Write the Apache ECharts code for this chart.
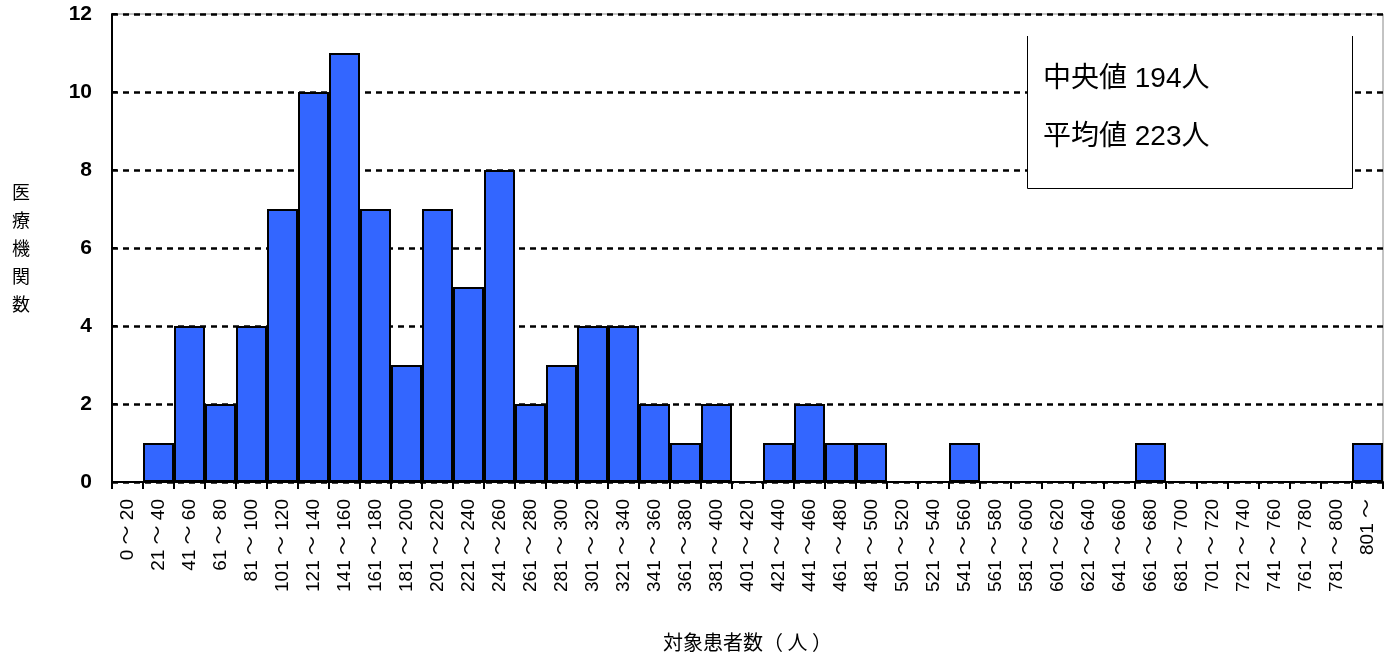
<!DOCTYPE html>
<html>
<head>
<meta charset="utf-8">
<script src="https://cdn.jsdelivr.net/npm/echarts@6/dist/echarts.min.js"></script>
<style>
  html, body { margin: 0; padding: 0; background: #fff; }
  #main { width: 1390px; height: 657px; }
</style>
</head>
<body>
<div id="main"></div>
<script>
// 患者数の階級
const categories = [
  '0 ～ 20', '21 ～ 40', '41 ～ 60', '61 ～ 80', '81 ～ 100', '101 ～ 120', '121 ～ 140', '141 ～ 160',
  '161 ～ 180', '181 ～ 200', '201 ～ 220', '221 ～ 240', '241 ～ 260', '261 ～ 280', '281 ～ 300',
  '301 ～ 320', '321 ～ 340', '341 ～ 360', '361 ～ 380', '381 ～ 400', '401 ～ 420', '421 ～ 440',
  '441 ～ 460', '461 ～ 480', '481 ～ 500', '501 ～ 520', '521 ～ 540', '541 ～ 560', '561 ～ 580',
  '581 ～ 600', '601 ～ 620', '621 ～ 640', '641 ～ 660', '661 ～ 680', '681 ～ 700', '701 ～ 720',
  '721 ～ 740', '741 ～ 760', '761 ～ 780', '781 ～ 800', '801 ～'
];
// 医療機関数
const counts = [
  0, 1, 4, 2, 4, 7, 10, 11, 7, 3, 7, 5, 8, 2, 3, 4, 4, 2, 1, 2, 0, 1, 2, 1, 1,
  0, 0, 1, 0, 0, 0, 0, 0, 1, 0, 0, 0, 0, 0, 0, 1
];
const yTicks = [0, 2, 4, 6, 8, 10, 12];
const statLines = ['中央値 194人', '平均値 223人'];

const chart = echarts.init(document.getElementById('main'), null, { renderer: 'canvas' });

const option = {
  animation: false,
  textStyle: {
    fontFamily: 'Liberation Sans, Arial, Noto Sans CJK JP, sans-serif'
  },
  grid: {
    left: 112,
    right: 7,
    top: 14,
    bottom: 171,
    show: true,
    borderColor: '#888',
    borderWidth: 1
  },
  xAxis: {
    type: 'category',
    data: categories,
    name: '対象患者数（ 人 ）',
    nameLocation: 'middle',
    nameGap: 150,
    nameTextStyle: {
      color: '#000',
      fontSize: 20,
      fontFamily: 'Noto Sans CJK JP'
    },
    axisLine: {
      lineStyle: { color: '#000', width: 2 }
    },
    axisTick: {
      show: true,
      interval: 0,
      length: 7,
      lineStyle: { color: '#000', width: 2 }
    },
    axisLabel: {
      interval: 0,
      rotate: 90,
      color: '#000',
      fontSize: 19,
      margin: 17
    },
    splitLine: { show: false }
  },
  yAxis: {
    type: 'value',
    min: 0,
    max: 12,
    interval: 2,
    name: '医\n療\n機\n関\n数',
    nameLocation: 'middle',
    nameRotate: 0,
    nameGap: 82,
    nameTextStyle: {
      color: '#000',
      fontSize: 18,
      lineHeight: 28,
      fontFamily: 'Noto Sans CJK JP'
    },
    axisLine: {
      show: true,
      lineStyle: { color: '#000', width: 2 }
    },
    axisTick: {
      show: true,
      inside: true,
      length: 5,
      lineStyle: { color: '#000', width: 2 }
    },
    axisLabel: {
      color: '#000',
      fontSize: 21,
      fontWeight: 'bold',
      margin: 20,
      formatter: v => (yTicks.indexOf(v) >= 0 ? String(v) : '')
    },
    splitLine: {
      show: true,
      lineStyle: { color: '#000', width: 2.5, type: [6, 5] }
    }
  },
  series: [
    {
      name: '医療機関数',
      type: 'bar',
      data: counts,
      barCategoryGap: '0%',
      itemStyle: {
        color: '#3366FF',
        borderColor: '#000',
        borderWidth: 2
      },
      z: 3
    }
  ],
  graphic: [
    // 統計値の枠（上辺なし）
    {
      type: 'rect',
      shape: { x: 1027, y: 36, width: 325, height: 152 },
      style: { fill: '#fff' },
      z: 10
    },
    {
      type: 'polyline',
      shape: { points: [[1027.5, 36], [1027.5, 188.5], [1352.5, 188.5], [1352.5, 36]] },
      style: { stroke: '#000', lineWidth: 1, fill: null },
      z: 11
    },
    {
      type: 'text',
      left: 1043,
      top: 65,
      style: {
        text: statLines[0],
        fontSize: 28,
        fill: '#000',
        fontFamily: 'Liberation Sans, Noto Sans CJK JP, sans-serif'
      },
      z: 12
    },
    {
      type: 'text',
      left: 1043,
      top: 123,
      style: {
        text: statLines[1],
        fontSize: 28,
        fill: '#000',
        fontFamily: 'Liberation Sans, Noto Sans CJK JP, sans-serif'
      },
      z: 12
    }
  ]
};

chart.setOption(option);
</script>
</body>
</html>
